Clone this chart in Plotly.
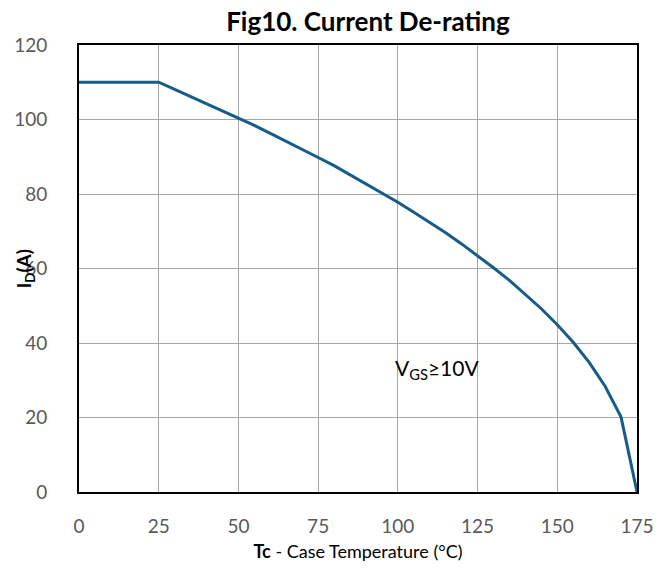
import plotly.graph_objects as go

temp_c = [0, 25, 30, 35, 40, 45, 50, 55, 60, 65, 70, 75, 80, 85, 90, 95, 100,
          105, 110, 115, 120, 125, 130, 135, 140, 145, 150, 155, 160, 165, 170, 175]
id_a = [110, 110, 108.1, 106.2, 104.2, 102.3, 100.4, 98.4, 96.3, 94.2, 92.0, 89.8,
        87.6, 85.2, 82.8, 80.3, 77.8, 75.1, 72.4, 69.6, 66.6, 63.5, 60.2, 56.8,
        53.1, 49.2, 44.9, 40.2, 34.8, 28.4, 20.1, 0]
x_ticks = [0, 25, 50, 75, 100, 125, 150, 175]
y_ticks = [0, 20, 40, 60, 80, 100, 120]

FONT = "Lato"

fig = go.Figure()
fig.add_trace(go.Scatter(x=temp_c, y=id_a, mode="lines",
                         line=dict(color="#155C8A", width=3), showlegend=False,
                         hoverinfo="skip"))

fig.update_layout(
    width=669, height=568,
    margin=dict(l=79, r=32, t=45, b=76),
    paper_bgcolor="white", plot_bgcolor="white",
    font=dict(family=FONT, color="#595959", size=19),
    title=dict(text="<b>Fig10. Current De-rating</b>", x=0.55, xanchor="center",
               y=0.961, yanchor="middle", automargin=False,
               font=dict(family=FONT, size=26, color="black")),
    xaxis=dict(range=[0, 175], tickvals=x_ticks, showgrid=True, gridcolor="#A6A6A6",
               gridwidth=1, showline=True, linecolor="black", linewidth=2, mirror=True,
               ticks="", ticklabelstandoff=16, zeroline=False, automargin=False,
               title=dict(text="<b>Tc</b> - Case Temperature (°C)", standoff=10,
                          font=dict(family=FONT, size=18, color="black"))),
    yaxis=dict(range=[0, 120], tickvals=y_ticks, showgrid=True, gridcolor="#A6A6A6",
               gridwidth=1, showline=True, linecolor="black", linewidth=2, mirror=True,
               ticks="", ticklabelstandoff=26, zeroline=False, automargin=False),
    annotations=[
        dict(text="<b>I<sub>D</sub>(A)</b>", textangle=-90, xref="paper", yref="paper",
             x=-0.097, y=0.5, xanchor="center", yanchor="middle", showarrow=False,
             font=dict(family=FONT, size=19, color="black")),
        dict(text="V<sub>GS</sub>≥10V", xref="x", yref="y", x=98.5, y=33,
             xanchor="left", yanchor="middle", showarrow=False,
             font=dict(family=FONT, size=21, color="black")),
    ],
)

fig.write_html("out.html", config={"displayModeBar": False},
               post_script="document.body.style.margin='0';")
